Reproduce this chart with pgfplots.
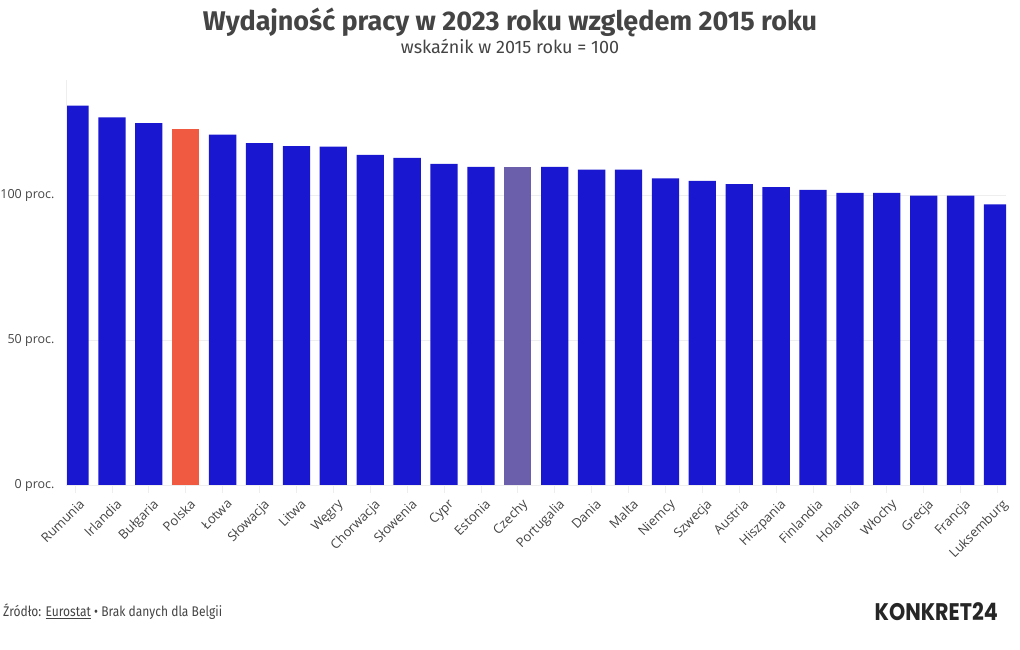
\documentclass[border=0pt]{standalone}
\usepackage{pgfplots}
\pgfplotsset{compat=1.18}
\usepackage{fontspec}
\setmainfont{Open Sans}
\newfontfamily\titlefont{Fira Sans}
\newfontfamily\footfont[FakeStretch=0.86]{Fira Sans}
\newfontfamily\logofont{Poppins}
\definecolor{barblue}{HTML}{1A17D0}
\definecolor{barred}{HTML}{F05A40}
\definecolor{barpurple}{HTML}{6B5FAB}
\definecolor{txt}{HTML}{444444}
\definecolor{gridc}{HTML}{EEEEEE}
\begin{document}
\begin{tikzpicture}[x=1pt,y=1pt]
\path[use as bounding box] (0,0) rectangle (1020,650);
\begin{axis}[
  at={(66pt,165pt)}, anchor=south west,
  width=940pt, height=405pt, scale only axis,
  xmin=-0.244, xmax=25.23, ymin=0, ymax=140,
  axis line style={draw=none},
  ybar, bar width=27.3pt,
  xtick={0,...,25},
  xticklabels={Rumunia,Irlandia,Bułgaria,Polska,Łotwa,Słowacja,Litwa,Węgry,Chorwacja,Słowenia,Cypr,Estonia,Czechy,Portugalia,Dania,Malta,Niemcy,Szwecja,Austria,Hiszpania,Finlandia,Holandia,Włochy,Grecja,Francja,Luksemburg},
  x tick label style={rotate=45, anchor=north east, font=\fontsize{13}{15}\selectfont, text=txt, inner sep=1pt, xshift=0pt, yshift=-5pt},
  xtick style={draw=gridc, line width=0.8pt},
  xtick pos=bottom, tick align=outside, major tick length=8pt,
  ytick={0,50,100},
  yticklabels={0 proc.,50 proc.,100 proc.},
  y tick label style={font=\fontsize{12.5}{14}\selectfont, text=txt},
  ytick style={draw=none},
  ymajorgrids, grid style={gridc, line width=0.8pt},
]
\addplot[fill=barblue, draw=none, bar shift=0pt] coordinates {
(0,131.1) (1,127.1) (2,125.1) (4,121.1) (5,118.2) (6,117.1) (7,117.0) (8,114.1) (9,113.1) (10,111.0) (11,110.0)
(13,110.0) (14,109.0) (15,109.0) (16,106.0) (17,105.1) (18,104.0) (19,103.0) (20,102.0) (21,101.0) (22,101.0) (23,100.0) (24,100.0) (25,97.0)};
\addplot[fill=barred, draw=none, bar shift=0pt] coordinates {(3,123.2)};
\addplot[fill=barpurple, draw=none, bar shift=0pt] coordinates {(12,110.0)};
\draw[gridc, line width=0.8pt] (axis cs:-0.244,0) -- (axis cs:-0.244,140);
\end{axis}
\node[anchor=base, text=txt] at (510,619) {\titlefont\fontsize{27}{30}\selectfont\bfseries Wydajność pracy w 2023 roku względem 2015 roku};
\node[anchor=base, text=txt] at (510,596) {\titlefont\fontsize{18}{20}\selectfont wskaźnik w 2015 roku = 100};
\node[anchor=base west, text=txt, inner sep=0pt] at (3,33) {\footfont\fontsize{14}{16}\selectfont Źródło: \underline{Eurostat} • Brak danych dla Belgii};
\node[anchor=base east, text=black!85, inner sep=0pt] at (998,29) {\scalebox{0.86}[1]{\logofont\fontsize{24}{26}\selectfont\bfseries KONKRET24}};
\end{tikzpicture}
\end{document}
